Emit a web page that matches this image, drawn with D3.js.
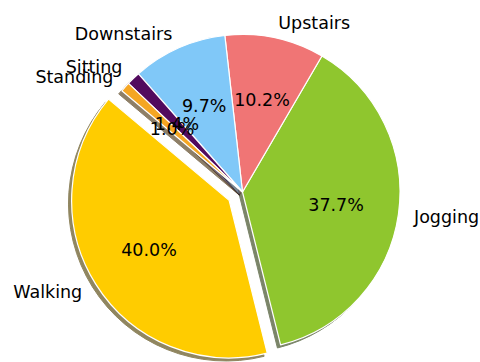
<!DOCTYPE html>
<html>
<head>
<meta charset="utf-8">
<script src="https://cdn.jsdelivr.net/npm/d3@7"></script>
<style>
  html, body { margin: 0; padding: 0; background: #ffffff; }
  svg { display: block; }
  text { font-family: "DejaVu Sans", sans-serif; font-size: 17.5px; fill: #000; }
</style>
</head>
<body>
<svg id="chart" width="480" height="362"></svg>
<script>
// Share of recorded samples per activity (percent)
const activities = ["Walking", "Jogging", "Upstairs", "Downstairs", "Sitting", "Standing"];
const shares = [40.0, 37.7, 10.2, 9.7, 1.4, 1.0];

// Slice colours, in the same order as the activities
const palette = ["#ffcc00", "#8fc62e", "#f07575", "#80c8f8", "#520a5e", "#f5a623"];

// Only the largest slice is pulled out from the centre
const explodeBy = { Walking: 0.1 };

const width = 480, height = 362;
const cx = 242.5, cy = 192, R = 157.5;
const startDeg = 140;           // first slice begins here, measured counter-clockwise from east
const labelDist = 1.1, pctDist = 0.6;
const shadowOffset = 0.02 * R;

const svg = d3.select("#chart");
const root = svg.append("g").attr("transform", `translate(${cx},${cy})`);

// d3 measures angles clockwise from north; run the slices counter-clockwise
const a0 = (90 - startDeg) * Math.PI / 180;
const pie = d3.pie().sort(null).value(d => d.value)
  .startAngle(a0).endAngle(a0 - 2 * Math.PI);

const data = activities.map((name, i) => ({ name, value: shares[i], color: palette[i] }));
const arcs = pie(data);
const total = d3.sum(shares);

const arc = d3.arc().innerRadius(0).outerRadius(R);
const mid = d => (d.startAngle + d.endAngle) / 2;
const polar = (a, r) => [Math.sin(a) * r, -Math.cos(a) * r];
const offsetOf = d => polar(mid(d), (explodeBy[d.data.name] || 0) * R);

const darker = c => {
  const rgb = d3.rgb(c);
  return d3.rgb(rgb.r * 0.3, rgb.g * 0.3, rgb.b * 0.3).formatHex();
};

// Drop shadows sit beneath every slice
root.append("g").selectAll("path").data(arcs).join("path")
  .attr("d", arc)
  .attr("transform", d => {
    const [ox, oy] = offsetOf(d);
    return `translate(${ox - shadowOffset},${oy + shadowOffset})`;
  })
  .attr("fill", d => darker(d.data.color))
  .attr("stroke", d => darker(d.data.color))
  .attr("stroke-width", 1)
  .attr("opacity", 0.62);

// Slices
root.append("g").selectAll("path").data(arcs).join("path")
  .attr("d", arc)
  .attr("transform", d => {
    const [ox, oy] = offsetOf(d);
    return `translate(${ox},${oy})`;
  })
  .attr("fill", d => d.data.color)
  .attr("stroke", "#ffffff")
  .attr("stroke-width", 1.2)
  .attr("stroke-linejoin", "round");

// Category labels outside the pie
root.append("g").selectAll("text").data(arcs).join("text")
  .each(function (d) {
    const e = explodeBy[d.data.name] || 0;
    const [x, y] = polar(mid(d), (labelDist + e) * R);
    d3.select(this)
      .attr("x", x).attr("y", y)
      .attr("text-anchor", x > 0 ? "start" : "end")
      .attr("dominant-baseline", "central")
      .text(d.data.name);
  });

// Percentages inside the slices
const fmt = d3.format(".1f");
root.append("g").selectAll("text").data(arcs).join("text")
  .each(function (d) {
    const e = explodeBy[d.data.name] || 0;
    const [x, y] = polar(mid(d), (pctDist + e) * R);
    d3.select(this)
      .attr("x", x).attr("y", y)
      .attr("text-anchor", "middle")
      .attr("dominant-baseline", "central")
      .text(fmt(d.data.value / total * 100) + "%");
  });
</script>
</body>
</html>
